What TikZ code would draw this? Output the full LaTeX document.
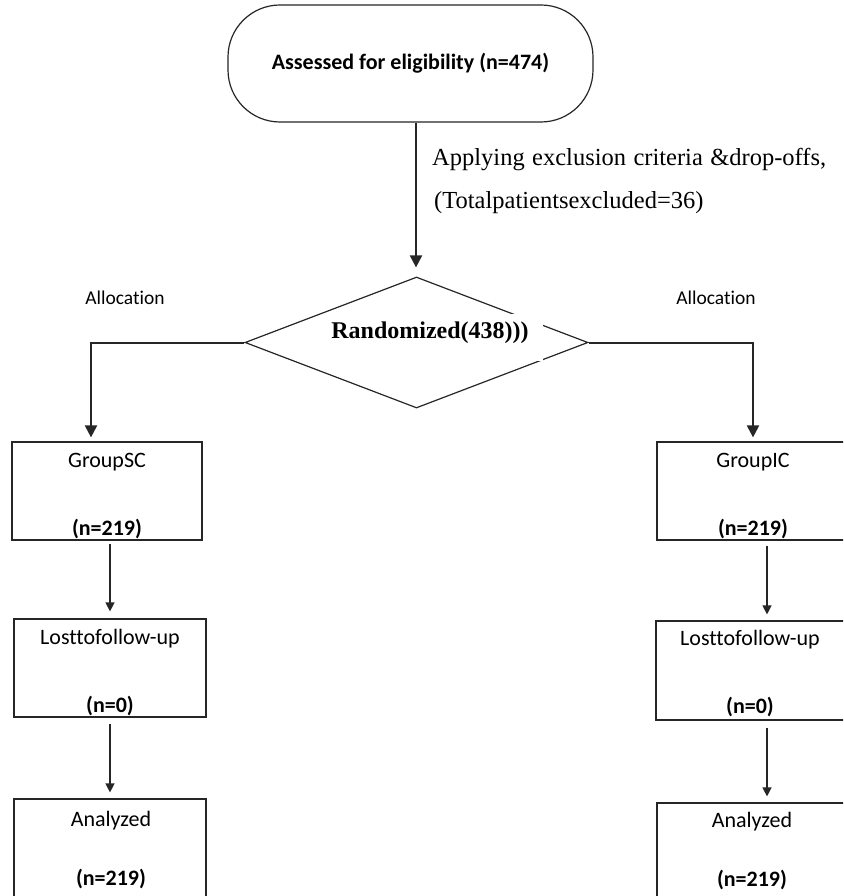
\documentclass[tikz,border=0pt]{standalone}
\usepackage{fontspec}
\setmainfont{Liberation Serif}
\newfontfamily\calfont[Ligatures={NoCommon,NoRare,NoContextual}]{Carlito}
\usetikzlibrary{arrows.meta,shapes.geometric}
\begin{document}
\begin{tikzpicture}[x=1pt,y=-1pt,
  boxnode/.style={draw=black!85,line width=1.2pt,rectangle,minimum width=190pt,minimum height=98pt,inner sep=0pt},
  btext/.style={font=\calfont\fontsize{22}{24}\selectfont,inner sep=0pt},
  bbtext/.style={font=\calfont\bfseries\fontsize{22}{24}\selectfont,inner sep=0pt},
  thickarrow/.style={line width=2pt,draw=black!85,-{Triangle[length=12pt,width=12pt]}},
  thinarrow/.style={line width=1.3pt,draw=black!85,-{Triangle[length=9pt,width=9pt]}},
  alloc/.style={font=\calfont\fontsize{19.5}{21}\selectfont,inner sep=0pt}]
\clip (0,0) rectangle (843,896);
\fill[white] (0,0) rectangle (843,896);
% top stadium
\node[draw=black!85,line width=1.2pt,rounded corners=52pt,minimum width=365pt,minimum height=117pt,inner sep=0pt,
  font=\calfont\bfseries\fontsize{22}{24}\selectfont] (start) at (410.5,63.5) {Assessed for eligibility (n=474)};
% diamond
\node[draw=black!85,line width=1.2pt,diamond,minimum width=343pt,minimum height=131pt,inner sep=0pt] (rand) at (416.5,342.5) {};
\node[fill=white,minimum width=217pt,minimum height=47pt,inner sep=0pt] (randbg) at (434.5,337.5) {};
\node[font=\bfseries\fontsize{24}{26}\selectfont,inner sep=0pt] (randtxt) at (430,333) {Randomized(438)))};
% exclusion text
\node[anchor=west,font=\fontsize{24.5}{26}\selectfont,inner sep=0pt] (excl1) at (432,160) {\makebox[394pt][s]{Applying exclusion criteria \&drop-offs,}};
\node[anchor=west,font=\fontsize{24.5}{26}\selectfont,inner sep=0pt] (excl2) at (434,203) {(Totalpatientsexcluded=36)};
% allocation labels
\node[alloc] (allocL) at (125,298) {Allocation};
\node[alloc] (allocR) at (716,298) {Allocation};
% left boxes
\node[boxnode] (L1) at (107,491) {};
\node[boxnode,minimum width=192pt] (L2) at (110,668) {};
\node[boxnode,minimum width=192pt] (L3) at (110,848) {};
% right boxes
\node[boxnode] (R1) at (752,491) {};
\node[boxnode,minimum height=99pt] (R2) at (751,670.5) {};
\node[boxnode] (R3) at (752,852) {};
% box texts
\node[btext] (L1a) at (107,462) {GroupSC};
\node[bbtext] (L1b) at (107,529) {(n=219)};
\node[btext] (L2a) at (110,639) {Losttofollow-up};
\node[bbtext] (L2b) at (110,706) {(n=0)};
\node[btext] (L3a) at (111,821) {Analyzed};
\node[bbtext] (L3b) at (111,879) {(n=219)};
\node[btext] (R1a) at (753,462) {GroupIC};
\node[bbtext] (R1b) at (753,529) {(n=219)};
\node[btext] (R2a) at (750,640) {Losttofollow-up};
\node[bbtext] (R2b) at (750,707) {(n=0)};
\node[btext] (R3a) at (752,822) {Analyzed};
\node[bbtext] (R3b) at (752,880) {(n=219)};
% connectors
\draw[thickarrow,shorten >=9pt] (start.south -| 416,0) -- (rand.north -| 416,0);
\coordinate (cL) at (91,342.5);
\coordinate (cR) at (753,342.5);
\draw[thickarrow,shorten >=4pt] (rand.west) -- (cL) -- (cL |- L1.north);
\draw[thickarrow,shorten >=4pt] (rand.east) -- (cR) -- (cR |- R1.north);
\draw[thinarrow,shorten <=3pt,shorten >=7pt] (L1.south -| 110,0) -- (L2.north -| 110,0);
\draw[thinarrow,shorten <=6pt,shorten >=6pt] (L2.south -| 110,0) -- (L3.north -| 110,0);
\draw[thinarrow,shorten <=5pt,shorten >=6pt] (R1.south -| 767,0) -- (R2.north -| 767,0);
\draw[thinarrow,shorten <=7pt,shorten >=6pt] (R2.south -| 767,0) -- (R3.north -| 767,0);
\end{tikzpicture}
\end{document}
